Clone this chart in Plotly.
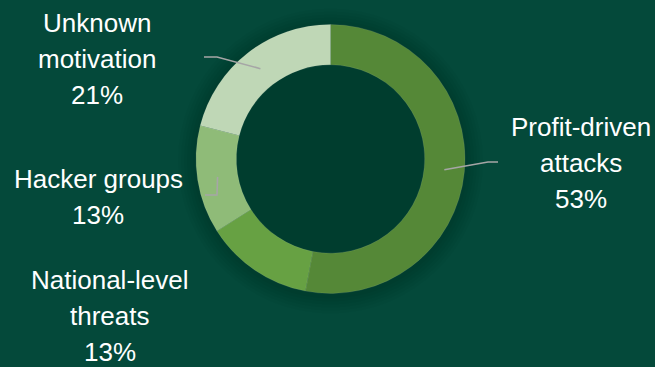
import math
import plotly.graph_objects as go

# ---- data ----
categories = ["Profit-driven<br>attacks", "National-level<br>threats", "Hacker groups", "Unknown<br>motivation"]
values = [53, 13, 13, 21]
colors = ["#558837", "#67a143", "#8fbb78", "#bfd7b6"]

# ---- layout constants (pixels) ----
W, H = 655, 367
CX, CY = 330.5, 159.0
R_OUT = 134.5
HOLE = 0.70
R_MID = R_OUT * (1 + HOLE) / 2
BG = "#04493a"
FONT = "Liberation Sans, Arial, sans-serif"
FS = 26
PITCH = 36

# label placement: (center x, first-line middle y) and leader elbow points
label_pos = [(581, 127), (109.5, 280), (98, 179), (97, 23)]
leader_pts = [
    [(488, 162), (498, 162)],
    None,
    [(217, 195), (205, 195)],
    [(217, 57), (204, 57)],
]


def px(x):
    return x / W


def py(y):
    return 1 - y / H


fig = go.Figure(go.Pie(
    values=values,
    labels=[c.replace("<br>", " ") for c in categories],
    hole=HOLE,
    sort=False,
    direction="clockwise",
    rotation=0,
    marker=dict(colors=colors, line=dict(color="rgba(255,255,255,0.15)", width=0.6)),
    textinfo="none",
    hoverinfo="label+percent",
    showlegend=False,
    domain=dict(x=[px(CX - R_OUT), px(CX + R_OUT)], y=[py(CY + R_OUT), py(CY - R_OUT)]),
))

shapes = []
# soft shadow around the ring
for k in range(1, 7):
    r = R_OUT + 3 * k
    shapes.append(dict(type="circle", xref="paper", yref="paper", layer="below",
                       x0=px(CX - r), x1=px(CX + r), y0=py(CY + r + 2), y1=py(CY - r + 2),
                       fillcolor="rgba(0,20,14,0.025)", line=dict(width=0)))

annotations = []
total = sum(values)
cum = 0
for i, v in enumerate(values):
    mid = (cum + v / 2) / total * 2 * math.pi
    cum += v
    sx = CX + R_MID * math.sin(mid)
    sy = CY - R_MID * math.cos(mid)
    if leader_pts[i]:
        pts = [(sx, sy)] + leader_pts[i]
        path = "M " + " L ".join(f"{px(x):.5f},{py(y):.5f}" for x, y in pts)
        shapes.append(dict(type="path", path=path, xref="paper", yref="paper",
                           line=dict(color="#a6a6a6", width=1.6)))
    lines = categories[i].split("<br>") + [f"{round(v / total * 100)}%"]
    lx, ly = label_pos[i]
    for k, t in enumerate(lines):
        annotations.append(dict(text=t, x=px(lx), y=py(ly + k * PITCH), xref="paper", yref="paper",
                                xanchor="center", yanchor="middle", showarrow=False,
                                font=dict(family=FONT, size=FS, color="white")))

fig.update_layout(
    width=W, height=H,
    margin=dict(l=0, r=0, t=0, b=0),
    paper_bgcolor=BG, plot_bgcolor=BG,
    shapes=shapes, annotations=annotations,
)
fig.write_html("out.html")
